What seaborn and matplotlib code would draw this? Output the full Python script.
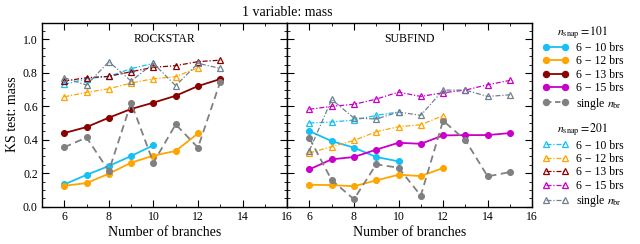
"""
KS test on mass vs number of branches, ROCKSTAR and SUBFIND side by side.
"""
import numpy as np
import matplotlib
matplotlib.use('Agg')
import matplotlib.pyplot as plt
from matplotlib.ticker import MultipleLocator
from matplotlib.lines import Line2D
import seaborn as sns

# ---- data ----
RANGE_LABELS = ['6 \u2212 10 brs', '6 \u2212 12 brs', '6 \u2212 13 brs', '6 \u2212 15 brs', 'single $n_{\\rm br}$']
COLORS = ['#17c0f2', '#ffa500', '#8b0000', '#c800c8']
SINGLE_101 = '#808080'
SINGLE_201 = '#708090'

# ROCKSTAR, n_snap = 101
rs101_x = {'6-10': [6, 7, 8, 9, 10], '6-12': [6, 7, 8, 9, 10, 11, 12],
           '6-13': [6, 7, 8, 9, 10, 11, 12, 13], 'single': [6, 7, 8, 9, 10, 11, 12, 13]}
rs101_y = {'6-10': [0.133, 0.19, 0.243, 0.303, 0.367],
           '6-12': [0.125, 0.141, 0.197, 0.263, 0.305, 0.333, 0.438],
           '6-13': [0.44, 0.476, 0.532, 0.584, 0.622, 0.663, 0.721, 0.763],
           'single': [0.355, 0.414, 0.213, 0.622, 0.263, 0.492, 0.353, 0.747]}
# ROCKSTAR, n_snap = 201
rs201_y = {'6-10': [0.731, 0.765, 0.779, 0.825, 0.857],
           '6-12': [0.657, 0.683, 0.705, 0.739, 0.765, 0.777, 0.831],
           '6-13': [0.751, 0.771, 0.779, 0.807, 0.833, 0.843, 0.867, 0.876],
           'single': [0.771, 0.727, 0.867, 0.751, 0.857, 0.723, 0.857, 0.827]}

# SUBFIND, n_snap = 101
sf_x = {'6-10': [6, 7, 8, 9, 10], '6-12': [6, 7, 8, 9, 10, 11, 12],
        '6-15': [6, 7, 8, 9, 10, 11, 12, 13, 14, 15], 'single': [6, 7, 8, 9, 10, 11, 12, 13, 14, 15]}
sf101_y = {'6-10': [0.452, 0.392, 0.353, 0.297, 0.271],
           '6-12': [0.131, 0.129, 0.122, 0.157, 0.191, 0.183, 0.231],
           '6-15': [0.223, 0.283, 0.297, 0.341, 0.382, 0.376, 0.426, 0.428, 0.428, 0.44],
           'single': [0.41, 0.159, 0.044, 0.253, 0.233, 0.066, 0.514, 0.398, 0.181, 0.207]}
# SUBFIND, n_snap = 201
sf201_y = {'6-10': [0.5, 0.506, 0.518, 0.546, 0.566],
           '6-12': [0.321, 0.359, 0.396, 0.448, 0.478, 0.49, 0.544],
           '6-15': [0.582, 0.6, 0.612, 0.643, 0.685, 0.659, 0.681, 0.697, 0.729, 0.755],
           'single': [0.335, 0.641, 0.53, 0.524, 0.566, 0.546, 0.697, 0.697, 0.659, 0.669]}

KEY_COLOR = {'6-10': COLORS[0], '6-12': COLORS[1], '6-13': COLORS[2], '6-15': COLORS[3]}

# ---- style ----
sns.set_theme(style='ticks')
plt.rcParams['font.family'] = ['Liberation Serif', 'DejaVu Serif']
plt.rcParams['mathtext.fontset'] = 'stix'
plt.rcParams['xtick.direction'] = 'in'
plt.rcParams['ytick.direction'] = 'in'
plt.rcParams['xtick.top'] = True
plt.rcParams['ytick.right'] = True
plt.rcParams['axes.linewidth'] = 1.0
for k in ['text.color', 'axes.labelcolor', 'xtick.color', 'ytick.color', 'axes.edgecolor']:
    plt.rcParams[k] = 'black'

fig = plt.figure(figsize=(6.4, 2.44), dpi=100)
ax1 = fig.add_axes([0.0656, 0.153, 0.383, 0.754])
ax2 = fig.add_axes([0.4486, 0.153, 0.383, 0.754])

DASHDOT = (0, (4, 1.5, 1, 1.5))
CIRC = dict(marker='o', markersize=4.3)
TRI = dict(marker='^', markersize=5, markerfacecolor='none', markeredgewidth=0.9)


def draw_panel(ax, xs, y101, y201):
    for key in y101:
        x = xs[key]
        if key == 'single':
            sns.lineplot(x=x, y=y101[key], ax=ax, color=SINGLE_101, markeredgecolor=SINGLE_101,
                         linestyle=(0, (4, 2.5)), linewidth=1.3, **CIRC)
            sns.lineplot(x=x, y=y201[key], ax=ax, color=SINGLE_201, markeredgecolor=SINGLE_201,
                         linestyle=DASHDOT, linewidth=0.9, **TRI)
        else:
            c = KEY_COLOR[key]
            sns.lineplot(x=x, y=y101[key], ax=ax, color=c, markeredgecolor=c, linewidth=1.3, **CIRC)
            sns.lineplot(x=x, y=y201[key], ax=ax, color=c, markeredgecolor=c,
                         linestyle=DASHDOT, linewidth=0.9, **TRI)
    ax.set_xlim(5, 16)
    ax.set_ylim(0, 1.1)
    ax.xaxis.set_major_locator(MultipleLocator(2))
    ax.xaxis.set_minor_locator(MultipleLocator(1))
    ax.yaxis.set_major_locator(MultipleLocator(0.2))
    ax.yaxis.set_minor_locator(MultipleLocator(0.05))
    ax.tick_params(which='major', length=5, width=0.8, labelsize=8.5, pad=3)
    ax.tick_params(which='minor', length=2.5, width=0.6)
    ax.set_xlabel('Number of branches', fontsize=10, labelpad=2)


draw_panel(ax1, rs101_x, rs101_y, rs201_y)
draw_panel(ax2, sf_x, sf101_y, sf201_y)

ax1.set_ylabel('KS test: mass', fontsize=10, labelpad=3)
ax2.set_ylabel('')
ax2.tick_params(labelleft=False)
ax1.text(0.5, 0.91, 'ROCKSTAR', transform=ax1.transAxes, ha='center', va='center', fontsize=8.5)
ax2.text(0.5, 0.91, 'SUBFIND', transform=ax2.transAxes, ha='center', va='center', fontsize=8.5)
fig.text(0.4486, 0.95, '1 variable: mass', ha='center', va='center', fontsize=10)

# ---- legends ----
h101 = []
h201 = []
for c in COLORS + [SINGLE_101]:
    ls = (0, (3, 2)) if c == SINGLE_101 else '-'
    h101.append(Line2D([], [], color=c, linestyle=ls, linewidth=1.3, **CIRC))
for c in COLORS + [SINGLE_201]:
    h201.append(Line2D([], [], color=c, linestyle=DASHDOT, linewidth=0.9, **TRI))

leg_kw = dict(frameon=False, fontsize=8.5, title_fontsize=8.5, numpoints=2, handlelength=2.2,
              handletextpad=0.6, labelspacing=0.12, borderpad=0.2, loc='upper left')
leg1 = fig.legend(h101, RANGE_LABELS, title='$n_{\\rm snap} = 101$',
                  bbox_to_anchor=(0.835, 0.935), **leg_kw)
leg2 = fig.legend(h201, RANGE_LABELS, title='$n_{\\rm snap} = 201$',
                  bbox_to_anchor=(0.835, 0.535), **leg_kw)

fig.savefig('out.png', dpi=100)
